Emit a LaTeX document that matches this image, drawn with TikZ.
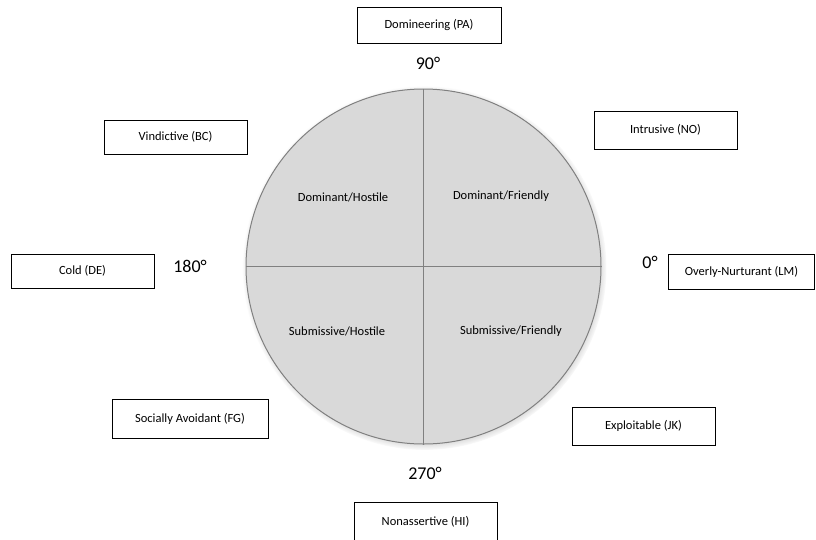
\documentclass[tikz,border=0pt]{standalone}
\usepackage{fontspec}
\setmainfont{Carlito}
\usetikzlibrary{shadows}
\definecolor{rimgray}{HTML}{808080}
\definecolor{discgray}{HTML}{D9D9D9}
\begin{document}
\begin{tikzpicture}[x=1pt,y=-1pt,
  trait/.style={draw,line width=0.8pt,minimum width=143pt,minimum height=36pt,inner sep=0pt,font=\fontsize{12.5}{14}\selectfont},
  degree/.style={font=\fontsize{18}{20}\selectfont},
  quad/.style={font=\fontsize{12.5}{14}\selectfont}]
\useasboundingbox (0,0) rectangle (816,539);
% disc with the two axes
\node[circle,draw=rimgray,line width=1pt,fill=discgray,minimum size=355pt,inner sep=0pt,
  circular drop shadow={shadow scale=1.025,shadow xshift=1pt,shadow yshift=-1.5pt}] (disc) at (423.5,266.5) {};
\draw[rimgray,line width=0.8pt] (disc.north) -- (disc.south) (disc.west) -- (disc.east);
\node[quad] (dh) at (343,197) {Dominant/Hostile};
\node[quad] (df) at (501,196) {Dominant/Friendly};
\node[quad] (sh) at (337,331) {Submissive/Hostile};
\node[quad] (sf) at (511,331) {Submissive/Friendly};
% angles
\node[degree] (d90) at (428,63) {90°};
\node[degree] (d0) at (650,262) {0°};
\node[degree] (d180) at (190,266) {180°};
\node[degree] (d270) at (425,473) {270°};
% octants
\node[trait,minimum width=144pt] (pa) at (429,25) {Domineering (PA)};
\node[trait,minimum height=34pt] (bc) at (175.5,137) {Vindictive (BC)};
\node[trait,minimum height=34pt] (de) at (82.5,271) {Cold (DE)};
\node[trait,minimum width=156pt,minimum height=39pt] (fg) at (190,418.5) {Socially Avoidant (FG)};
\node[trait,minimum height=38pt] (no) at (665.5,130) {Intrusive (NO)};
\node[trait,minimum width=146pt,minimum height=35pt] (lm) at (741.5,271.5) {Overly-Nurturant (LM)};
\node[trait,minimum height=38pt] (jk) at (643.5,426) {Exploitable (JK)};
\node[trait,minimum height=40pt] (hi) at (425.5,522) {Nonassertive (HI)};
\end{tikzpicture}
\end{document}
